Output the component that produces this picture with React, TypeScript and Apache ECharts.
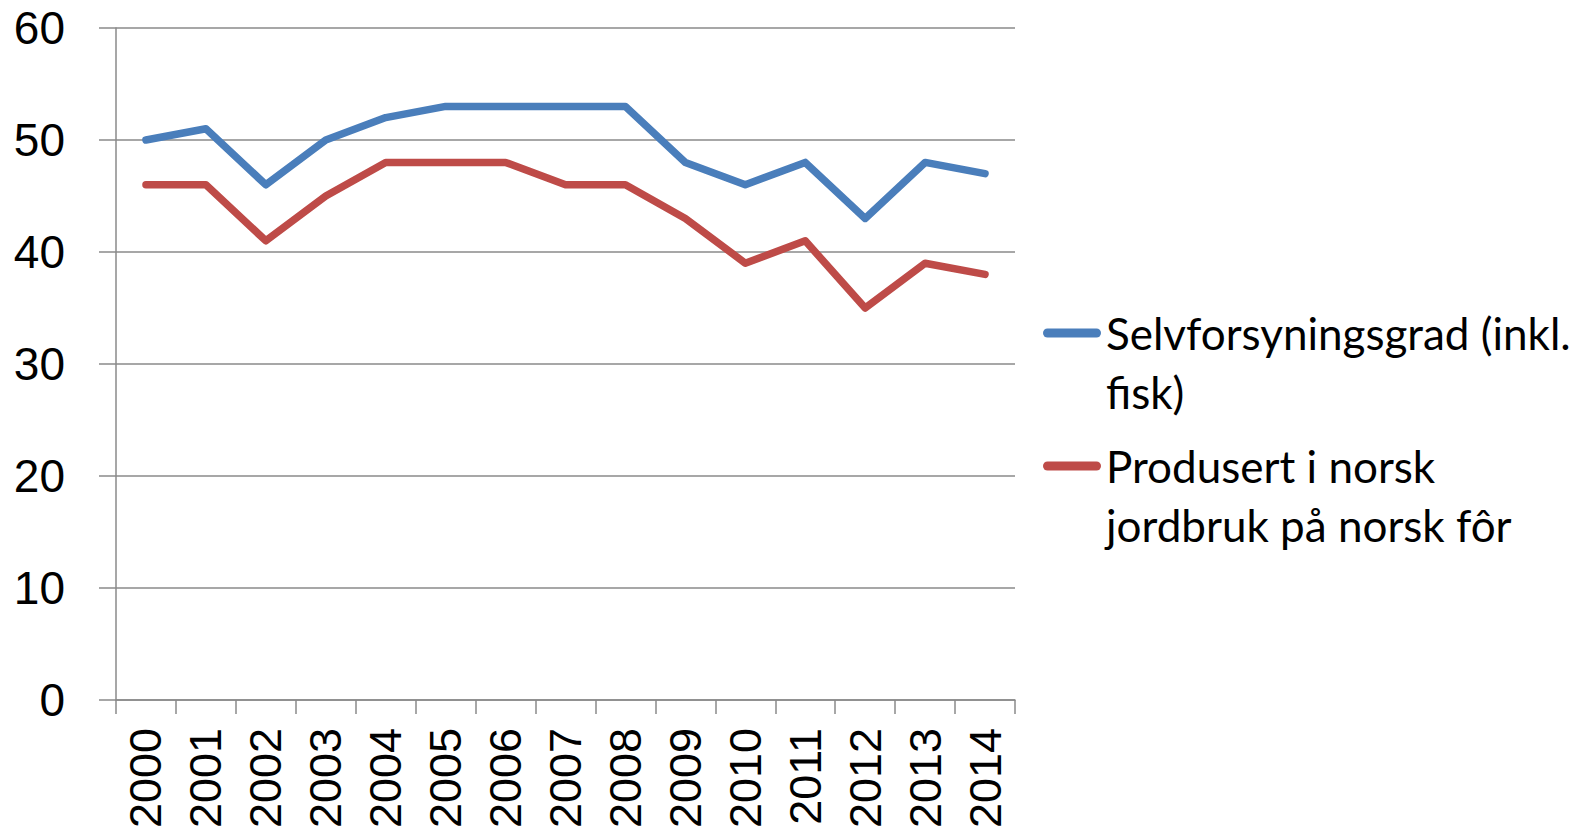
import React, { useEffect, useRef } from "react";
import * as echarts from "echarts";

const years = ["2000","2001","2002","2003","2004","2005","2006","2007","2008","2009","2010","2011","2012","2013","2014"];
const selvforsyning = [50, 51, 46, 50, 52, 53, 53, 53, 53, 48, 46, 48, 43, 48, 47];
const norskFor = [46, 46, 41, 45, 48, 48, 48, 46, 46, 43, 39, 41, 35, 39, 38];
const seriesNames = ["Selvforsyningsgrad (inkl. fisk)", "Produsert i norsk jordbruk på norsk fôr"];
const legendLines: Record<string, string[]> = {
  "Selvforsyningsgrad (inkl. fisk)": ["Selvforsyningsgrad (inkl.", "fisk)"],
  "Produsert i norsk jordbruk på norsk fôr": ["Produsert i norsk", "jordbruk på norsk fôr"],
};
const yTicks = { min: 0, max: 60, interval: 10 };

const GRID = "#8a8a8a";

export default function App() {
  const ref = useRef<HTMLDivElement>(null);
  useEffect(() => {
    if (!ref.current) return;
    const chart = echarts.init(ref.current, undefined, { renderer: "svg" });
    const LH = 59;
    chart.setOption({
      animation: false,
      backgroundColor: "#fff",
      grid: {
        left: 116,
        right: 574,
        top: 28,
        bottom: 129,
        containLabel: false,
        outerBoundsMode: "none",
      },
      legend: {
        orient: "vertical",
        left: 1043,
        top: 333 - (LH * 3) / 2,
        padding: 0,
        itemWidth: 58,
        itemHeight: 9,
        itemGap: 133 - LH * 3,
        icon: "path://M4.5,0 L53.5,0 A4.5,4.5 0 0 1 53.5,9 L4.5,9 A4.5,4.5 0 0 1 4.5,0 Z",
        data: seriesNames,
        formatter: (n: string) => "\n" + (legendLines[n] ?? [n]).join("\n"),
        textStyle: {
          fontFamily: "Lato",
          fontSize: 44,
          lineHeight: LH,
          color: "#000",
        },
      },
      xAxis: {
        type: "category",
        data: years,
        boundaryGap: true,
        axisLine: { show: true, lineStyle: { color: GRID, width: 1.5 } },
        axisTick: { show: true, length: 14, interval: 0, lineStyle: { color: GRID, width: 1.5 } },
        axisLabel: {
          interval: 0,
          rotate: 90,
          margin: 28,
          fontSize: 45,
          fontFamily: "Liberation Sans",
          color: "#000",
        },
        splitLine: { show: false },
      },
      yAxis: {
        type: "value",
        min: yTicks.min,
        max: yTicks.max,
        interval: yTicks.interval,
        axisLine: { show: true, lineStyle: { color: GRID, width: 1.5 } },
        axisTick: { show: true, length: 17, lineStyle: { color: GRID, width: 1.5 } },
        axisLabel: {
          margin: 51,
          fontSize: 46,
          fontFamily: "Liberation Sans",
          color: "#000",
        },
        splitLine: { show: true, lineStyle: { color: GRID, width: 1.5 } },
      },
      series: [
        {
          name: seriesNames[0],
          type: "line",
          data: selvforsyning,
          symbol: "none",
          color: "#4A7EBB",
          lineStyle: { width: 7.5, color: "#4A7EBB", cap: "round", join: "round" },
        },
        {
          name: seriesNames[1],
          type: "line",
          data: norskFor,
          symbol: "none",
          color: "#BE4B48",
          lineStyle: { width: 7.5, color: "#BE4B48", cap: "round", join: "round" },
        },
      ],
    });
    return () => chart.dispose();
  }, []);
  return (
    <div
      ref={ref}
      style={{ position: "fixed", left: 0, top: 0, width: 1589, height: 829, background: "#fff" }}
    />
  );
}
